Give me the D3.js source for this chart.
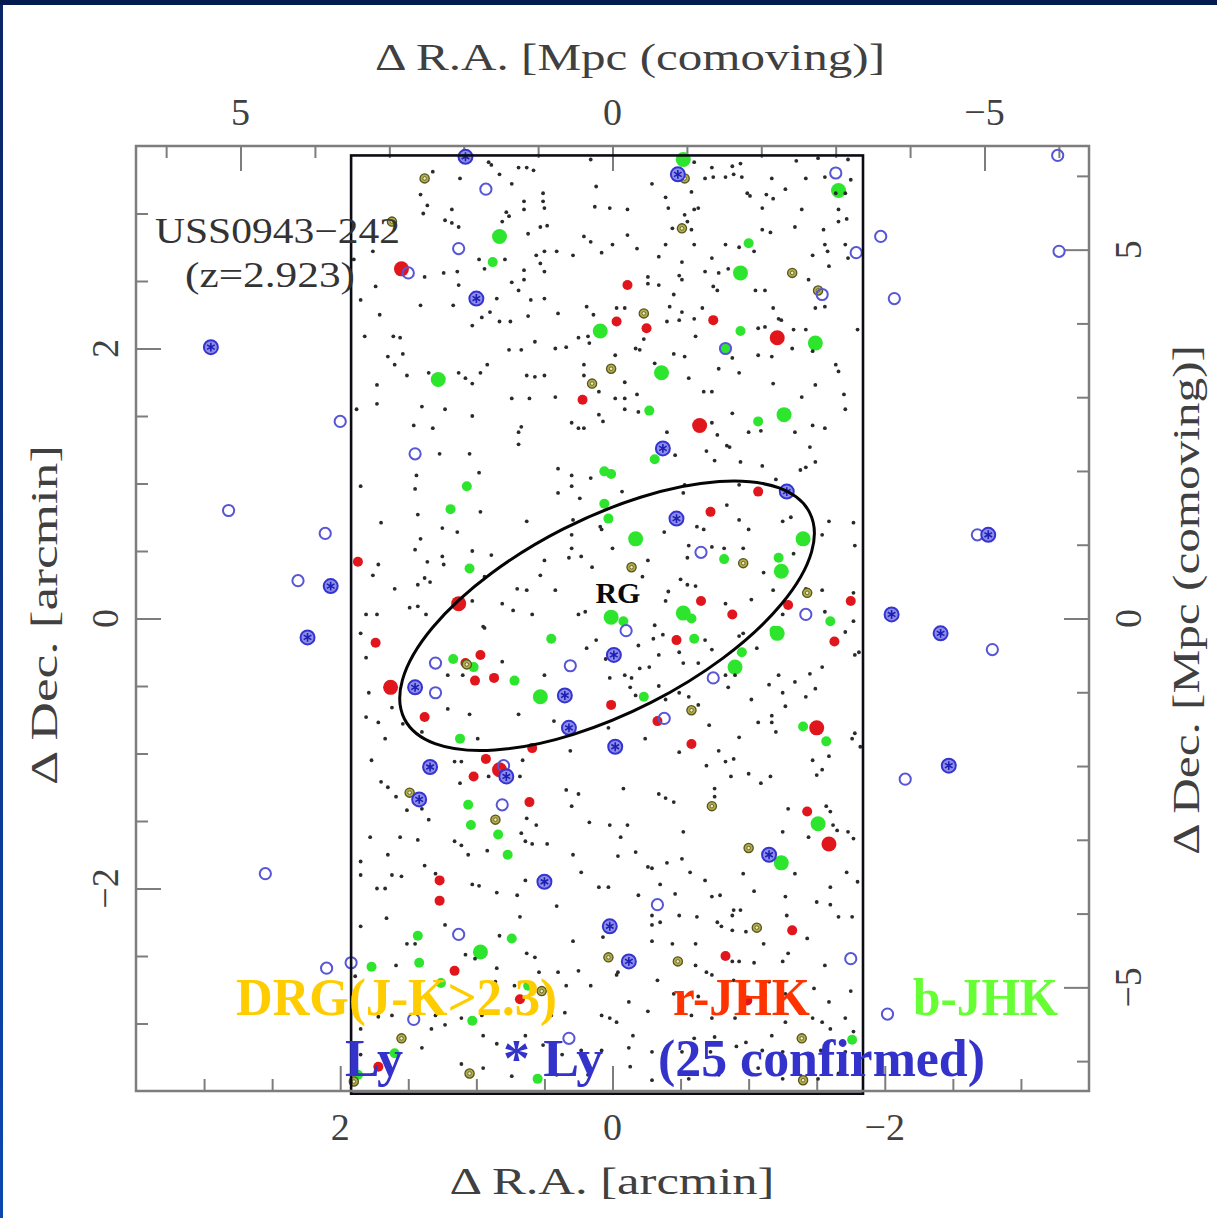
<!DOCTYPE html>
<html>
<head>
<meta charset="utf-8">
<script src="https://cdn.jsdelivr.net/npm/d3@7"></script>
<style>
  html, body { margin: 0; padding: 0; background: #ffffff; }
  svg { display: block; }
</style>
</head>
<body>
<svg id="chart" width="1217" height="1218"></svg>
<script>
// Field around the radio galaxy USS0943-242 (z = 2.923).
// All positions are offsets from the radio galaxy in arcmin: [dRA, dDec].
const MPC_PER_ARCMIN = 1.83;   // comoving scale at z = 2.923

const raMajorTicks = [2, 0, -2];
const decMajorTicks = [2, 0, -2];
const mpcMajorTicks = [5, 0, -5];

// Near-infrared imaging footprint (arcmin)
const surveyRA = [1.92, -1.84];
const surveyDec = [3.43, -3.52];

// Overdensity ellipse around the radio galaxy: centre, semi-axes (arcmin), position angle (deg)
const ellipseCentre = [0.04, 0.02];
const ellipseAxes = [1.67, 0.72];
const ellipseAngle = 27;

// Radio galaxy label anchor (arcmin)
const rgLabel = [-0.04, 0.115];

// All other K-selected field galaxies
const fieldGalaxies = [
[0.91,3.38],[0.89,3.36],[0.69,3.34],[0.63,3.34],[0.58,3.32],[0.16,3.40],[-0.60,3.38],[-0.73,3.34],[-0.88,3.35],[-0.94,3.37],[-1.35,3.39],[-1.51,3.41],[-1.73,3.40],[1.32,3.31],[1.12,3.26],[0.83,3.29],[0.74,3.22],[-0.68,3.26],[-0.74,3.27],[-0.83,3.27],[-0.89,3.29],[-0.95,3.27],[-1.17,3.26],[-1.42,3.26],[-1.56,3.27],[-1.75,3.25],[-0.29,3.22],[1.41,3.14],[0.51,3.15],[0.12,3.20],[-0.39,3.12],[-0.58,3.16],[-0.99,3.15],[-1.01,3.13],[-1.13,3.14],[-1.18,3.11],[-1.27,3.18],[-1.64,3.15],[-1.71,3.15],[1.36,3.06],[0.65,3.09],[0.51,3.09],[0.50,3.04],[1.39,3.00],[1.18,3.03],[0.78,3.01],[0.76,2.98],[0.65,3.03],[0.13,3.05],[0.02,3.04],[-0.11,3.03],[-0.41,3.04],[-0.60,3.03],[-0.63,3.04],[-1.10,3.04],[-1.39,3.03],[-1.66,3.03],[-0.53,2.99],[1.23,2.95],[1.18,2.93],[1.13,2.90],[0.81,2.94],[0.53,2.90],[0.48,2.91],[-0.55,2.94],[-0.58,2.88],[-0.44,2.89],[0.21,2.83],[0.16,2.79],[0.62,2.85],[-1.10,2.88],[-1.16,2.86],[-1.34,2.90],[-1.55,2.88],[-1.66,2.94],[-1.72,2.96],[1.76,2.72],[0.41,2.72],[0.50,2.72],[0.56,2.69],[0.29,2.69],[0.08,2.71],[0.00,2.77],[-0.11,2.84],[-0.18,2.74],[-0.39,2.77],[-0.60,2.77],[-0.73,2.67],[-0.83,2.77],[-0.93,2.75],[-1.04,2.72],[-1.47,2.69],[-1.56,2.77],[-1.58,2.72],[-1.71,2.77],[-1.73,2.67],[-0.34,2.68],[0.53,2.63],[1.90,2.66],[0.98,2.66],[0.79,2.66],[0.94,2.59],[1.38,2.53],[1.24,2.56],[1.14,2.57],[0.50,2.57],[0.65,2.58],[-0.51,2.64],[-0.26,2.53],[-0.49,2.54],[-0.78,2.56],[-0.85,2.59],[-0.68,2.57],[-1.59,2.61],[1.85,2.36],[1.74,2.46],[1.13,2.47],[0.74,2.49],[0.65,2.51],[0.69,2.43],[-0.26,2.48],[-0.34,2.47],[-0.51,2.51],[-0.74,2.46],[-0.77,2.43],[-1.05,2.43],[-1.12,2.43],[-1.44,2.51],[0.85,2.37],[0.60,2.36],[0.50,2.37],[-0.45,2.40],[1.71,2.25],[1.41,2.32],[1.17,2.32],[1.03,2.17],[0.96,2.23],[0.90,2.27],[0.83,2.20],[0.75,2.20],[0.62,2.24],[0.40,2.26],[0.19,2.31],[0.14,2.25],[-0.03,2.30],[-0.09,2.30],[-0.42,2.31],[-0.51,2.27],[-0.66,2.30],[-0.60,2.22],[-1.18,2.30],[-1.22,2.22],[-1.24,2.21],[-1.49,2.30],[-1.56,2.31],[1.82,2.09],[1.61,2.09],[1.56,2.08],[0.25,2.08],[0.18,2.09],[-0.40,2.20],[-0.49,2.21],[-1.07,2.15],[-1.12,2.16],[-1.33,2.14],[-1.42,2.14],[-1.80,2.14],[-0.23,2.07],[-0.61,2.09],[1.65,1.94],[1.54,1.96],[1.60,1.88],[0.76,1.99],[0.67,1.99],[0.57,2.05],[0.42,2.00],[0.34,2.01],[0.17,2.04],[-0.02,1.95],[-0.17,2.00],[-0.20,1.99],[-0.45,1.96],[-0.53,1.94],[-0.88,1.93],[-1.07,1.95],[-1.17,1.94],[-1.32,2.00],[-1.47,1.98],[1.51,1.80],[1.35,1.82],[1.13,1.82],[1.08,1.78],[0.97,1.82],[0.92,1.88],[1.03,1.74],[0.63,1.80],[0.57,1.79],[0.50,1.80],[0.21,1.88],[0.21,1.80],[-0.09,1.75],[-0.31,1.89],[-0.56,1.78],[-0.78,1.85],[-0.93,1.82],[-1.18,1.74],[-1.49,1.73],[-1.64,1.88],[-1.66,1.83],[1.73,1.73],
[1.73,1.59],[1.40,1.57],[1.23,1.55],[0.74,1.63],[0.61,1.63],[0.42,1.64],[0.10,1.68],[-0.02,1.63],[-0.09,1.63],[-0.18,1.66],[-0.67,1.68],[-0.73,1.68],[-1.39,1.64],[-1.70,1.66],[1.88,1.55],[-1.71,1.55],[1.03,1.50],[1.46,1.43],[1.32,1.41],[0.69,1.38],[0.67,1.42],[0.30,1.45],[0.25,1.41],[0.21,1.41],[0.10,1.51],[0.07,1.46],[-0.09,1.55],[-0.19,1.53],[-0.40,1.38],[-0.73,1.45],[-0.88,1.52],[-1.00,1.38],[-1.09,1.39],[-1.34,1.38],[-1.47,1.43],[-1.56,1.41],[0.69,1.29],[1.27,1.22],[1.05,1.22],[-0.77,1.36],[-0.84,1.28],[-0.86,1.27],[-1.45,1.27],[-0.46,1.21],[-0.69,1.24],[-0.75,1.17],[-0.94,1.16],[-1.10,1.13],[-1.49,1.16],[-1.38,1.10],[-1.42,1.12],[1.44,1.06],[0.98,1.08],[0.40,1.11],[0.30,1.06],[-1.20,1.03],[1.85,0.98],[1.45,0.96],[0.40,0.93],[0.30,0.98],[0.16,1.04],[-0.07,0.94],[0.24,0.89],[-0.52,0.93],[-0.84,0.84],[-0.53,0.99],[-0.93,0.99],[1.70,0.71],[1.43,0.77],[1.25,0.67],[0.97,0.79],[1.14,0.64],[0.63,0.72],[0.29,0.73],[0.09,0.68],[0.08,0.66],[-0.38,0.64],[-0.62,0.68],[-0.67,0.66],[-0.93,0.73],[-1.00,0.66],[-1.25,0.72],[-1.31,0.75],[-1.59,0.72],[-1.77,0.71],[-1.54,0.62],[1.41,0.59],[1.45,0.51],[1.03,0.50],[0.89,0.47],[1.36,0.42],[1.25,0.46],[1.24,0.40],[0.50,0.43],[0.30,0.52],[0.30,0.62],[0.32,0.45],[0.23,0.46],[0.15,0.38],[0.00,0.52],[-0.26,0.43],[-0.55,0.45],[-0.56,0.54],[-0.73,0.53],[-0.82,0.52],[-0.96,0.52],[-1.33,0.48],[-1.78,0.54],[1.72,0.40],[1.76,0.32],[1.60,0.22],[1.43,0.25],[1.38,0.30],[1.34,0.27],[0.94,0.31],[0.70,0.22],[0.63,0.21],[0.53,0.32],[0.42,0.21],[-0.22,0.31],[-0.50,0.29],[-0.55,0.25],[-0.61,0.24],[-0.41,0.20],[-1.11,0.34],[-1.18,0.21],[-1.54,0.21],[-1.77,0.19],[-1.42,0.22],[1.81,0.03],[1.73,0.03],[1.49,0.08],[1.43,0.09],[1.37,0.03],[1.03,0.13],[0.81,0.11],[0.73,0.06],[0.59,0.03],[0.25,0.03],[0.20,0.05],[-0.39,0.13],[-0.83,0.11],[-1.02,0.14],[-1.25,0.03],[-1.56,0.05],[-1.77,-0.02],[-0.31,-0.05],[0.95,-0.06],
[1.85,-0.11],[0.94,-0.07],[-1.71,-0.10],[-0.93,-0.13],[-0.96,-0.11],[-0.30,-0.15],[-0.37,-0.12],[-0.68,-0.16],[-1.78,-0.27],[-1.81,-0.25],[1.81,-0.29],[0.19,-0.22],[0.12,-0.16],[-0.19,-0.20],[-0.34,-0.27],[-0.49,-0.25],[-0.73,-0.23],[-1.06,-0.22],[0.05,-0.30],[0.81,-0.32],[1.21,-0.42],[1.10,-0.42],[0.50,-0.42],[0.02,-0.44],[-0.09,-0.42],[-0.14,-0.44],[-0.20,-0.37],[-0.27,-0.36],[-0.52,-0.33],[-0.63,-0.33],[-0.83,-0.42],[-0.90,-0.42],[-1.22,-0.42],[-1.34,-0.47],[-1.45,-0.41],[-1.54,-0.36],[1.79,-0.55],[-0.13,-0.51],[-0.34,-0.50],[-0.85,-0.51],[-1.15,-0.49],[-1.49,-0.52],[-0.49,-0.55],[1.62,-0.66],[1.21,-0.67],[1.05,-0.71],[0.69,-0.71],[0.43,-0.76],[1.81,-0.73],[1.72,-0.77],[1.54,-0.78],[1.40,-0.84],[-0.17,-0.57],[-0.39,-0.60],[-0.56,-0.58],[-0.63,-0.64],[-1.02,-0.60],[-1.25,-0.55],[-1.42,-0.58],[-1.17,-0.72],[-1.17,-0.77],[-1.07,-0.77],[-0.71,-0.79],[-1.27,-0.65],[1.67,-0.89],[0.99,-0.89],[0.31,-0.98],[0.03,-0.81],[-0.24,-0.89],[-0.49,-0.99],[-0.78,-0.98],[-0.93,-0.88],[-1.20,-0.84],[-1.76,-0.89],[-1.78,-0.85],[-1.82,-0.95],[1.77,-1.05],[1.16,-1.06],[1.11,-1.06],[0.66,-1.05],[-0.69,-1.09],[-0.83,-1.06],[-0.89,-1.04],[-1.47,-1.05],[-1.59,-1.02],[1.70,-1.21],[1.65,-1.25],[1.59,-1.32],[1.12,-1.22],[0.91,-1.17],[0.68,-1.17],[-0.87,-1.17],[-1.00,-1.15],[-1.09,-1.22],[-1.16,-1.17],[-1.50,-1.16],[-1.54,-1.12],[0.34,-1.27],[0.25,-1.30],[-0.08,-1.26],[-0.34,-1.30],[-0.39,-1.33],[-0.45,-1.36],[-0.75,-1.26],[-0.75,-1.32],[-1.29,-1.41],[-1.57,-1.39],[1.51,-1.42],[1.40,-1.41],[0.63,-1.48],[0.56,-1.53],[0.30,-1.39],[0.17,-1.51],[0.02,-1.53],[-0.11,-1.53],[1.35,-1.49],[-0.52,-1.58],[-1.62,-1.53],[-1.65,-1.57],[-1.73,-1.58],[-1.60,-1.43],[1.78,-1.62],[1.56,-1.62],[1.43,-1.64],[1.16,-1.65],[1.11,-1.68],[0.67,-1.59],[0.64,-1.65],[0.59,-1.67],[0.48,-1.67],[-0.06,-1.62],[-1.25,-1.58],[-1.44,-1.62],[1.65,-1.75],[1.38,-1.83],[1.06,-1.75],[0.92,-1.72],[0.29,-1.75],[-0.04,-1.76],[-0.17,-1.73],[-0.26,-1.84],[-0.40,-1.81],[-0.51,-1.78],[1.85,-1.80],[-1.77,-1.63],
[1.85,-1.90],[1.62,-1.90],[1.55,-1.91],[1.30,-1.89],[0.64,-1.94],[0.23,-1.88],[-0.29,-1.85],[-0.57,-1.88],[-0.68,-1.94],[-0.96,-1.89],[-1.34,-1.89],[-1.72,-1.88],[-1.80,-1.95],[1.73,-2.00],[1.67,-2.00],[1.03,-1.97],[0.98,-1.98],[0.85,-2.03],[0.70,-2.05],[0.10,-1.99],[0.03,-1.99],[-0.19,-2.05],[-0.35,-1.97],[-0.46,-2.04],[-0.73,-2.06],[-0.79,-2.05],[-1.04,-2.02],[-1.27,-2.06],[-1.60,-1.99],[1.66,-2.22],[1.85,-2.28],[1.23,-2.27],[0.68,-2.21],[0.41,-2.13],[-0.29,-2.20],[-0.35,-2.25],[-0.49,-2.20],[-0.62,-2.21],[-0.77,-2.25],[-0.89,-2.16],[-0.94,-2.16],[-0.88,-2.20],[-1.28,-2.20],[-1.66,-2.21],[-1.76,-2.21],[-1.50,-2.10],[-1.60,-2.12],[-0.29,-2.27],[-0.88,-2.31],[-0.80,-2.28],[-0.98,-2.32],[0.07,-2.36],[1.51,-2.41],[1.45,-2.41],[0.83,-2.35],[0.63,-2.48],[0.57,-2.51],[0.29,-2.39],[-0.29,-2.39],[-0.44,-2.41],[-0.61,-2.41],[-1.11,-2.41],[-1.29,-2.48],[-1.43,-2.37],[1.08,-2.49],[1.01,-2.52],[-0.88,-2.54],[-0.93,-2.54],[-1.04,-2.55],[-1.25,-2.54],[-1.56,-2.57],[1.59,-2.57],[0.85,-2.59],[1.89,-2.65],[-0.61,-2.57],[0.54,-2.62],[0.40,-2.62],[0.25,-2.61],[-0.04,-2.62],[-0.03,-2.64],[-0.33,-2.68],[-0.69,-2.62],[-0.73,-2.64],[0.86,-2.69],[0.72,-2.72],[0.47,-2.73],[0.34,-2.72],[0.16,-2.72],[-0.45,-2.78],[-0.63,-2.80],[-0.89,-2.68],[-1.15,-2.69],[-1.12,-2.79],[-1.27,-2.78],[-1.48,-2.74],[-1.59,-2.84],[-1.75,-2.76],[-0.12,-2.84],[-0.26,-2.91],[-0.51,-2.89],[1.30,-2.94],[1.23,-3.01],[1.11,-2.96],[0.96,-2.94],[1.62,-2.94],[1.72,-2.95],[0.76,-2.90],[0.08,-2.94],[0.02,-2.96],[-0.03,-2.99],[-0.58,-2.94],[-0.73,-2.96],[-0.90,-2.96],[-1.27,-2.99],[-1.47,-2.96],[-1.54,-2.99],[-1.71,-2.96],[0.45,-2.94],[0.35,-2.92],[1.33,-3.04],[1.85,-3.04],[-0.15,-3.09],[-0.60,-3.11],[-0.75,-3.10],[-0.98,-3.14],[-1.17,-3.09],[-1.60,-3.04],[1.40,-3.18],[0.95,-3.09],[0.85,-3.15],[0.64,-3.09],[0.51,-3.16],[0.37,-3.23],[0.23,-3.20],[0.08,-3.20],[-0.12,-3.18],[-0.29,-3.21],[-0.51,-3.21],[-0.72,-3.21],[-0.91,-3.17],[-1.10,-3.20],[-1.25,-3.21],[-1.53,-3.20],[-1.71,-3.21],[-1.77,-3.06],[1.85,-3.23],[1.11,-3.30],[0.95,-3.33],[0.74,-3.39],[0.41,-3.38],[0.18,-3.38],[-0.13,-3.32],[-0.29,-3.42],[-0.56,-3.41],[-0.78,-3.38],[-1.07,-3.33],[-1.25,-3.41],[-1.51,-3.41],[-1.66,-3.37]
];

// Blue JHK colour-selected galaxies (bright / faint in K)
const bJHKBright = [[-0.52,3.40],[0.83,2.83],[-0.94,2.56],[-1.66,3.17],[-1.49,2.04],[-0.36,1.82],[1.28,1.77],[-1.26,1.51],[-0.17,0.59],[-1.40,0.59],[-1.24,0.35],[0.01,0.01],[-0.52,0.04],[-1.21,-0.11],[-0.90,-0.36],[0.53,-0.58],[-1.51,-1.52],[-1.24,-1.81],[0.97,-2.47],[0.09,2.13]];
const bJHKFaint = [[0.88,2.64],[-1.00,2.78],[-0.94,2.13],[-0.83,2.00],[-0.27,1.54],[-1.07,1.46],[-0.31,1.18],[0.06,1.09],[0.01,1.07],[1.07,0.98],[1.19,0.81],[0.06,0.85],[0.03,0.74],[-0.82,0.44],[-1.22,0.45],[1.05,0.37],[-1.60,-0.02],[-0.08,-0.02],[-0.58,0.00],[-1.19,-0.09],[0.45,-0.15],[-0.60,-0.15],[1.17,-0.30],[1.02,-0.36],[0.72,-0.46],[-0.95,-0.25],[-0.23,-0.58],[-1.40,-0.80],[-1.57,-0.91],[1.12,-0.89],[1.06,-1.38],[1.04,-1.53],[0.84,-1.60],[0.77,-1.75],[1.43,-2.35],[0.74,-2.37],[1.42,-2.55],[1.77,-2.58],[1.26,-2.70],[0.62,-2.72],[1.03,-2.98],[1.60,-3.22],[1.87,-3.38],[0.55,-3.41],[-1.76,-3.12]];

// Red JHK colour-selected galaxies (bright / faint in K)
const rJHKBright = [[1.55,2.59],[-1.21,2.08],[-0.64,1.43],[1.13,0.11],[1.63,-0.51],[-1.50,-0.81],[0.83,-1.12],[-1.59,-1.67]];
const rJHKFaint = [[-0.11,2.47],[-0.03,2.20],[-0.25,2.15],[-0.74,2.21],[0.22,1.62],[-1.07,0.94],[-0.72,0.79],[1.87,0.42],[-0.65,0.13],[-0.88,0.03],[-1.29,0.10],[-1.75,0.13],[1.74,-0.18],[-0.47,-0.16],[-1.63,-0.17],[0.97,-0.27],[1.08,-0.33],[1.01,-0.46],[0.87,-0.44],[0.01,-0.64],[1.38,-0.73],[-0.33,-0.76],[0.59,-0.96],[-0.58,-0.93],[0.93,-1.04],[1.02,-1.17],[0.61,-1.36],[-1.43,-1.43],[1.27,-1.94],[1.27,-2.09],[-0.83,-2.50],[-1.32,-2.31],[1.16,-2.61],[0.68,-2.82],[-0.99,-2.83],[1.72,-3.32]];

// Distant red galaxies, J-K > 2.3
const drgGalaxies = [[1.38,3.26],[1.62,2.94],[-0.53,3.26],[-0.51,2.89],[-1.32,2.56],[-1.51,2.43],[-0.23,2.26],[0.01,1.85],[0.15,1.74],[-0.14,0.38],[-0.96,0.41],[-1.43,0.19],[1.07,-0.34],[-0.58,-0.68],[1.49,-1.29],[0.86,-1.49],[-0.73,-1.39],[-1.00,-1.70],[-1.06,-2.29],[0.03,-2.51],[-0.48,-2.54],[0.52,-2.76],[1.55,-3.11],[1.05,-3.37],[-1.39,-3.11],[-1.40,-3.42],[1.90,-3.43]];

// Narrow-band Ly-alpha emitter candidates
const lyaCandidates = [[0.93,3.18],[1.13,2.74],[1.50,2.56],[-1.64,3.30],[-1.54,2.40],[-1.79,2.71],[-0.83,2.00],[1.45,1.22],[-0.65,0.49],[-1.42,0.03],[-0.10,-0.09],[1.30,-0.33],[0.31,-0.35],[-0.74,-0.44],[1.30,-0.55],[-0.38,-0.74],[0.81,-1.38],[0.80,-1.09],[-0.33,-2.12],[1.13,-2.34],[1.92,-2.55],[-1.75,-2.52],[1.46,-2.97],[0.32,-3.11],[-3.27,3.43],[-1.97,2.83],[-3.28,2.72],[-2.07,2.37],[2.00,1.46],[2.82,0.80],[2.11,0.63],[2.31,0.28],[-2.79,-0.23],[-2.68,0.62],[-2.15,-1.19],[2.55,-1.89],[2.10,-2.59],[-2.02,-2.93]];

// Spectroscopically confirmed Ly-alpha emitters (25)
const lyaConfirmed = [[1.08,3.42],[-0.48,3.29],[1.00,2.37],[-0.37,1.26],[-1.28,0.94],[-0.47,0.74],[1.45,-0.51],[-0.01,-0.27],[0.35,-0.57],[0.32,-0.81],[-0.02,-0.95],[1.34,-1.10],[0.78,-1.17],[1.42,-1.34],[-1.15,-1.75],[0.50,-1.95],[0.02,-2.28],[-0.12,-2.54],[2.95,2.01],[2.24,-0.14],[2.07,0.24],[-2.05,0.03],[-2.41,-0.11],[-2.76,0.62],[-2.47,-1.09]];

// ---------------------------------------------------------------------------
const svg = d3.select("#chart");
const W = 1217, H = 1218;
const plot = { left: 136, right: 1089, top: 146, bottom: 1091 };

const x = d3.scaleLinear().domain([3.5, -3.5]).range([plot.left, plot.right]);
const y = d3.scaleLinear().domain([-3.5, 3.5]).range([plot.bottom, plot.top]);
const xMpc = d3.scaleLinear().domain(x.domain().map(v => v * MPC_PER_ARCMIN)).range(x.range());
const yMpc = d3.scaleLinear().domain(y.domain().map(v => v * MPC_PER_ARCMIN)).range(y.range());

const serif = "'Liberation Serif', 'Times New Roman', serif";
const axisInk = "#404040";
const frameInk = "#7d7d7d";

// page border (slide background showing at the edges)
const defs = svg.append("defs");
const edgeGrad = defs.append("linearGradient").attr("id", "edge").attr("x1", 0).attr("y1", 0).attr("x2", 0).attr("y2", 1);
edgeGrad.append("stop").attr("offset", "0%").attr("stop-color", "#0a2466");
edgeGrad.append("stop").attr("offset", "100%").attr("stop-color", "#0c47b0");
defs.append("filter").attr("id", "soft").attr("x", "-50%").attr("y", "-50%").attr("width", "200%").attr("height", "200%")
  .append("feGaussianBlur").attr("stdDeviation", 0.7);

svg.append("rect").attr("width", W).attr("height", H).attr("fill", "#ffffff");
svg.append("rect").attr("x", 0).attr("y", 0).attr("width", 3).attr("height", H).attr("fill", "url(#edge)");
svg.append("rect").attr("x", 0).attr("y", 0).attr("width", W).attr("height", 5).attr("fill", "#031b4e");

// ---- ticks (pointing inwards) ----
const raMinor = d3.range(-3, 3.01, 0.5).filter(v => !raMajorTicks.includes(v));
const decMinor = d3.range(-3, 3.01, 0.5).filter(v => !decMajorTicks.includes(v));
const mpcMinor = d3.range(-6, 6.01, 1).filter(v => !mpcMajorTicks.includes(v));

function tickSet(axisFn, scale, values, len, tx, ty) {
  const g = svg.append("g").attr("transform", `translate(${tx},${ty})`)
    .call(axisFn(scale).tickValues(values).tickSize(-len).tickFormat(""));
  g.select(".domain").remove();
  g.selectAll("line").attr("stroke", frameInk).attr("stroke-width", 2);
}
tickSet(d3.axisBottom, x, raMinor, 12, 0, plot.bottom);
tickSet(d3.axisBottom, x, raMajorTicks, 25, 0, plot.bottom);
tickSet(d3.axisLeft, y, decMinor, 12, plot.left, 0);
tickSet(d3.axisLeft, y, decMajorTicks, 25, plot.left, 0);
tickSet(d3.axisTop, xMpc, mpcMinor, 12, 0, plot.top);
tickSet(d3.axisTop, xMpc, mpcMajorTicks, 25, 0, plot.top);
tickSet(d3.axisRight, yMpc, mpcMinor, 12, plot.right, 0);
tickSet(d3.axisRight, yMpc, mpcMajorTicks, 25, plot.right, 0);

// ---- galaxies ----
const gMarks = svg.append("g");
const fmt = v => v < 0 ? "\u2212" + Math.abs(v) : String(v);

function discs(data, r, fill, soft) {
  gMarks.append("g").attr("filter", soft ? "url(#soft)" : null)
    .selectAll("circle").data(data).join("circle")
    .attr("cx", d => x(d[0])).attr("cy", d => y(d[1])).attr("r", r).attr("fill", fill);
}
discs(bJHKFaint, 5, "#2ee52e", true);
discs(bJHKBright, 7.5, "#2ee52e", true);
discs(rJHKFaint, 5, "#e0151a", true);
discs(rJHKBright, 7.5, "#e0151a", true);

// faint field population
gMarks.append("g").attr("filter", "url(#soft)")
  .selectAll("circle").data(fieldGalaxies).join("circle")
  .attr("cx", d => x(d[0])).attr("cy", d => y(d[1])).attr("r", 1.9).attr("fill", "#2a2a2a");

// DRGs
const drg = gMarks.append("g").selectAll("g").data(drgGalaxies).join("g")
  .attr("transform", d => `translate(${x(d[0])},${y(d[1])})`);
drg.append("circle").attr("r", 4.6).attr("fill", "#b3ad4c").attr("stroke", "#56561e").attr("stroke-width", 1.3);
drg.append("circle").attr("r", 1.8).attr("fill", "#ecebc4").attr("stroke", "#56561e").attr("stroke-width", 0.8);

// Ly-alpha candidates
gMarks.append("g").selectAll("circle").data(lyaCandidates).join("circle")
  .attr("cx", d => x(d[0])).attr("cy", d => y(d[1])).attr("r", 5.6)
  .attr("fill", "none").attr("stroke", "#5656d6").attr("stroke-width", 2);

// confirmed Ly-alpha emitters
const conf = gMarks.append("g").selectAll("g").data(lyaConfirmed).join("g")
  .attr("transform", d => `translate(${x(d[0])},${y(d[1])})`);
conf.append("circle").attr("r", 7).attr("fill", "#8f8fe8").attr("stroke", "#3434d2").attr("stroke-width", 2);
conf.append("path").attr("d", d3.symbol(d3.symbolAsterisk, 55)()).attr("fill", "none")
  .attr("stroke", "#1e1eb8").attr("stroke-width", 1.6);

// ---- imaging footprint and overdensity ellipse ----
svg.append("rect")
  .attr("x", x(surveyRA[0])).attr("y", y(surveyDec[0]))
  .attr("width", x(surveyRA[1]) - x(surveyRA[0]))
  .attr("height", y(surveyDec[1]) - y(surveyDec[0]))
  .attr("fill", "none").attr("stroke", "#0b0b14").attr("stroke-width", 2.6);

svg.append("ellipse")
  .attr("transform", `translate(${x(ellipseCentre[0])},${y(ellipseCentre[1])}) rotate(${-ellipseAngle})`)
  .attr("rx", x(0) - x(ellipseAxes[0]))
  .attr("ry", y(0) - y(ellipseAxes[1]))
  .attr("fill", "none").attr("stroke", "#050505").attr("stroke-width", 3);

svg.append("text").attr("x", x(rgLabel[0])).attr("y", y(rgLabel[1]))
  .attr("text-anchor", "middle").attr("font-family", serif).attr("font-weight", "bold")
  .attr("font-size", 30).attr("fill", "#0a0a0a").text("RG");

// ---- frame ----
svg.append("rect").attr("x", plot.left).attr("y", plot.top)
  .attr("width", plot.right - plot.left).attr("height", plot.bottom - plot.top)
  .attr("fill", "none").attr("stroke", frameInk).attr("stroke-width", 2.5);

// ---- tick labels ----
const lab = svg.append("g").attr("font-family", serif).attr("font-size", 38).attr("fill", axisInk);
lab.selectAll(".bx").data(raMajorTicks).join("text")
  .attr("x", d => x(d)).attr("y", 1140).attr("text-anchor", "middle").text(fmt);
lab.selectAll(".tx").data(mpcMajorTicks).join("text")
  .attr("x", d => xMpc(d)).attr("y", 125).attr("text-anchor", "middle").text(fmt);
lab.selectAll(".ly").data(decMajorTicks).join("text")
  .attr("transform", d => `translate(118,${y(d)}) rotate(-90)`).attr("text-anchor", "middle").text(fmt);
lab.selectAll(".ry").data(mpcMajorTicks).join("text")
  .attr("transform", d => `translate(1141,${yMpc(d)}) rotate(-90)`).attr("text-anchor", "middle").text(fmt);

// ---- axis titles (wide serif, glyphs stretched to the title width) ----
const titles = svg.append("g").attr("font-family", serif).attr("font-size", 38).attr("fill", axisInk);
function title(t, transform, len) {
  titles.append("text").attr("transform", transform).attr("text-anchor", "middle")
    .attr("textLength", len).attr("lengthAdjust", "spacingAndGlyphs").text(t);
}
title("\u0394 R.A. [Mpc (comoving)]", "translate(630,70)", 510);
title("\u0394 R.A. [arcmin]", "translate(612,1194)", 325);
title("\u0394 Dec. [arcmin]", "translate(57,615) rotate(-90)", 340);
title("\u0394 Dec. [Mpc (comoving)]", "translate(1199,600) rotate(-90)", 510);

// ---- field name ----
const name = svg.append("g").attr("font-family", serif).attr("font-size", 36).attr("fill", "#333333");
name.append("text").attr("x", 155).attr("y", 243).attr("textLength", 245)
  .attr("lengthAdjust", "spacingAndGlyphs").text("USS0943\u2212242");
name.append("text").attr("x", 185).attr("y", 287).attr("textLength", 170)
  .attr("lengthAdjust", "spacingAndGlyphs").text("(z=2.923)");

// ---- legend ----
const legendRows = [
  { t: "DRG(J-K>2.3)", x: 236, y: 1015, w: 321, c: "#ffcc00" },
  { t: "r-JHK", x: 673, y: 1015, w: 137, c: "#ff3300" },
  { t: "b-JHK", x: 913, y: 1015, w: 145, c: "#66ff33" },
  { t: "Ly", x: 345, y: 1076, w: 58, c: "#3333cc" },
  { t: "* Ly", x: 503, y: 1076, w: 100, c: "#3333cc" },
  { t: "(25 confirmed)", x: 658, y: 1076, w: 327, c: "#3333cc" }
];
svg.append("g").attr("font-family", serif).attr("font-weight", "bold").attr("font-size", 52)
  .selectAll("text").data(legendRows).join("text")
  .attr("x", d => d.x).attr("y", d => d.y).attr("textLength", d => d.w)
  .attr("lengthAdjust", "spacingAndGlyphs")
  .attr("fill", d => d.c).text(d => d.t);
</script>
</body>
</html>
